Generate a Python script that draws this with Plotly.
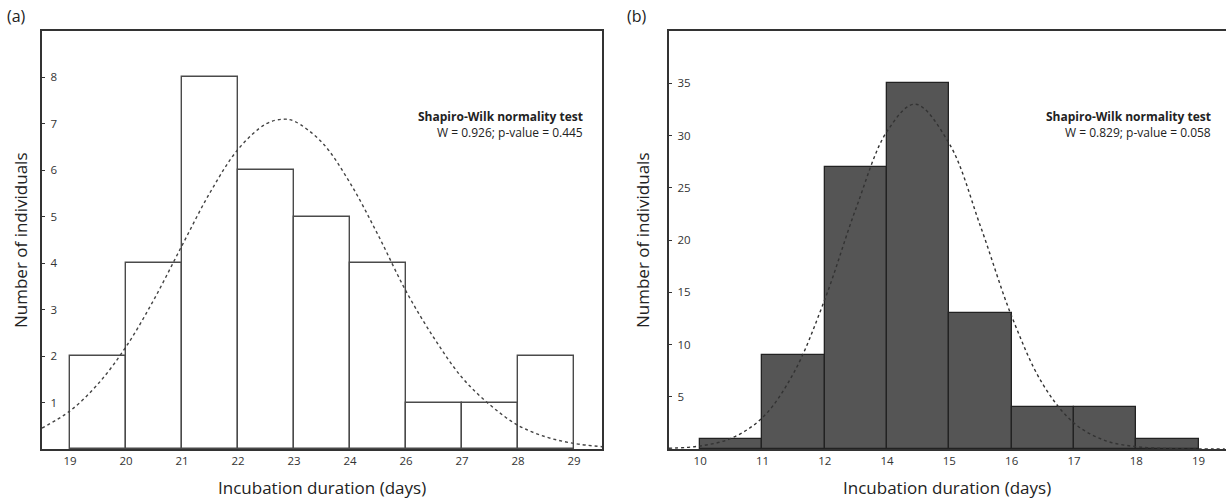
import plotly.graph_objects as go

# ---- data ----
a_ticks = ["19", "20", "21", "22", "23", "24", "26", "27", "28", "29"]
a_counts = [2, 4, 8, 6, 5, 4, 1, 1, 2]
a_curve_x = [-0.5, 0, 0.5, 1, 1.5, 2, 2.5, 3, 3.5, 3.8, 4, 4.5, 5, 5.5, 6, 6.5, 7, 7.5, 8, 8.5, 9, 9.5]
a_curve_y = [0.45, 0.82, 1.40, 2.2, 3.22, 4.38, 5.52, 6.45, 7.0, 7.1, 7.06, 6.6, 5.73, 4.61, 3.4, 2.39, 1.54, 0.95, 0.51, 0.26, 0.12, 0.05]

b_ticks = ["10", "11", "12", "14", "15", "16", "17", "18", "19"]
b_counts = [1, 9, 27, 35, 13, 4, 4, 1]
b_curve_x = [-0.5, 0, 0.5, 1, 1.5, 2, 2.5, 3, 3.45, 4, 4.5, 5, 5.5, 6, 6.5, 7, 7.5, 8, 8.42]
b_curve_y = [0.07, 0.29, 1.03, 3.0, 7.26, 14.3, 23.0, 30.4, 33.0, 29.2, 21.3, 12.7, 6.2, 2.48, 0.81, 0.22, 0.05, 0.01, 0.0]

W, H = 1226, 501
FONT = "Open Sans"
AX = "#333333"

fig = go.Figure()

# panel (a)
fig.add_trace(go.Bar(
    x=[i + 0.5 for i in range(len(a_counts))], y=a_counts, width=1,
    marker=dict(color="white", line=dict(color="#4a4a4a", width=1.4)),
    xaxis="x", yaxis="y", showlegend=False, hoverinfo="skip"))
fig.add_trace(go.Scatter(
    x=a_curve_x, y=a_curve_y, mode="lines", line_shape="spline",
    line=dict(color="#444444", width=1.4, dash="dot"),
    xaxis="x", yaxis="y", showlegend=False, hoverinfo="skip"))

# panel (b)
fig.add_trace(go.Bar(
    x=[i + 0.5 for i in range(len(b_counts))], y=b_counts, width=1,
    marker=dict(color="#555555", line=dict(color="#222222", width=1.3)),
    xaxis="x2", yaxis="y2", showlegend=False, hoverinfo="skip"))
fig.add_trace(go.Scatter(
    x=b_curve_x, y=b_curve_y, mode="lines", line_shape="spline",
    line=dict(color="#333333", width=1.4, dash="dot"),
    xaxis="x2", yaxis="y2", showlegend=False, hoverinfo="skip"))

tickfont = dict(family=FONT, size=11.5, color="#333333")

common_x = dict(showgrid=False, zeroline=False, showline=True, linecolor=AX, linewidth=1.6,
                ticks="", tickfont=tickfont, fixedrange=True)
common_y = dict(showgrid=False, zeroline=False, showline=True, linecolor=AX, linewidth=1.6,
                ticks="inside", ticklen=3, tickwidth=1, tickcolor=AX,
                ticklabelposition="inside", ticklabelstandoff=5, tickfont=tickfont, fixedrange=True)

ydom = [1 - 449 / H, 1 - 31 / H]

fig.update_layout(
    width=W, height=H,
    margin=dict(l=0, r=0, t=0, b=0),
    paper_bgcolor="white", plot_bgcolor="white",
    bargap=0,
    xaxis=dict(common_x, domain=[42 / W, 602 / W], range=[-0.5, 9.5], mirror=True,
               tickmode="array", tickvals=list(range(len(a_ticks))), ticktext=a_ticks, anchor="y"),
    yaxis=dict(common_y, domain=ydom, range=[0, 9], mirror=True,
               tickmode="array", tickvals=[1, 2, 3, 4, 5, 6, 7, 8], anchor="x"),
    xaxis2=dict(common_x, domain=[669 / W, 1.0], range=[-0.5, 8.44], mirror=True,
                tickmode="array", tickvals=list(range(len(b_ticks))), ticktext=b_ticks, anchor="y2"),
    yaxis2=dict(common_y, domain=ydom, range=[0, 40], mirror=False,
                tickmode="array", tickvals=[5, 10, 15, 20, 25, 30, 35], anchor="x2"),
)

def px(x, y, text, size, xanchor="center", yanchor="middle", **kw):
    fig.add_annotation(x=x / W, y=1 - y / H, xref="paper", yref="paper", text=text,
                       xanchor=xanchor, yanchor=yanchor,
                       showarrow=False, font=dict(family=FONT, size=size, color="#222222"), **kw)

px(16, 16, "(a)", 16)
px(637, 16, "(b)", 16)
px(20, 240, "Number of individuals", 17, textangle=-90)
px(642, 240, "Number of individuals", 17, textangle=-90)
px(322, 487, "Incubation duration (days)", 17)
px(947, 487, "Incubation duration (days)", 17)

px(585, 117, "<b>Shapiro-Wilk normality test</b>", 12, xanchor="right")
px(585, 132, "W = 0.926; p-value = 0.445", 12, xanchor="right")
px(1213, 117, "<b>Shapiro-Wilk normality test</b>", 12, xanchor="right")
px(1213, 132, "W = 0.829; p-value = 0.058", 12, xanchor="right")

fig.write_html("out.html")
